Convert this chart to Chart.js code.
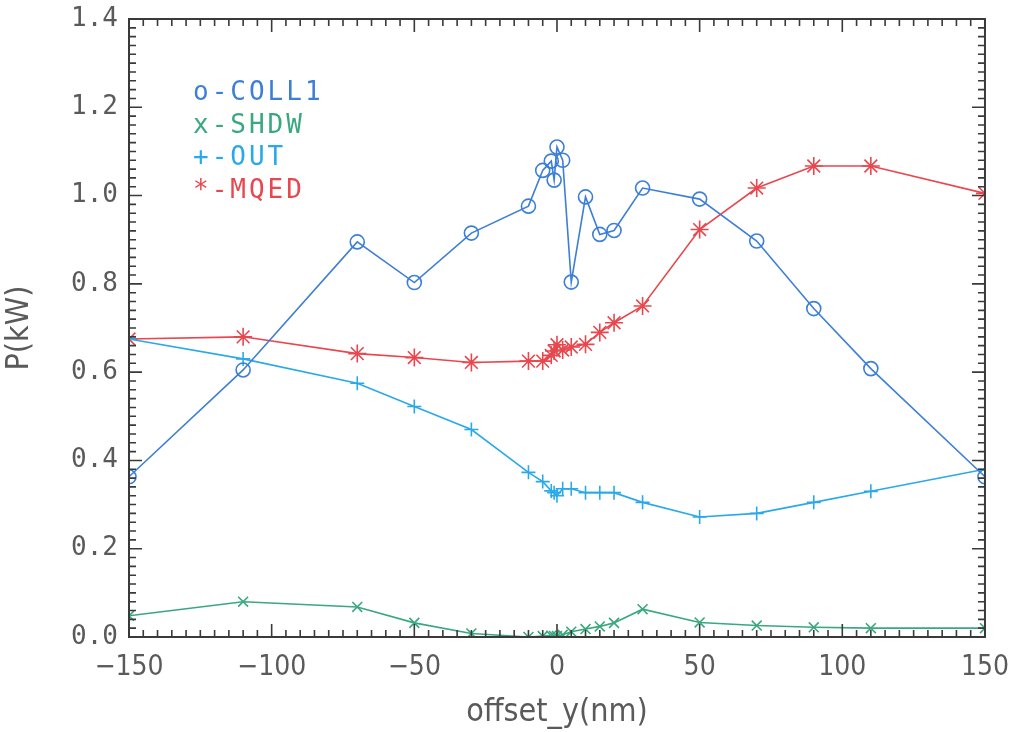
<!DOCTYPE html>
<html>
<head>
<meta charset="utf-8">
<script src="https://cdn.jsdelivr.net/npm/chart.js@4"></script>
<style>
  html, body { margin: 0; padding: 0; background: #ffffff; }
  #wrap { width: 1015px; height: 732px; position: relative; }
</style>
</head>
<body>
<div id="wrap"><canvas id="chart" width="1015" height="732"></canvas></div>
<script>
// offset_y (nm) positions shared by all four series
const offsetY = [-150, -110, -70, -50, -30, -10, -5, -2, -1, 0, 2, 5, 10, 15, 20, 30, 50, 70, 90, 110, 150];

// P (kW) per series
const coll1 = [0.363, 0.605, 0.895, 0.803, 0.915, 0.976, 1.057, 1.078, 1.035, 1.110, 1.080, 0.804, 0.997, 0.912, 0.921, 1.017, 0.992, 0.897, 0.744, 0.608, 0.363];
const shdw  = [0.048, 0.080, 0.068, 0.032, 0.008, 0.000, 0.002, 0.003, 0.002, 0.002, 0.005, 0.012, 0.018, 0.024, 0.032, 0.063, 0.033, 0.026, 0.022, 0.020, 0.020];
const out   = [0.675, 0.630, 0.575, 0.522, 0.470, 0.373, 0.352, 0.331, 0.327, 0.320, 0.336, 0.336, 0.327, 0.327, 0.327, 0.305, 0.272, 0.280, 0.305, 0.330, 0.380];
const mqed  = [0.675, 0.680, 0.642, 0.633, 0.622, 0.625, 0.625, 0.638, 0.648, 0.662, 0.650, 0.657, 0.663, 0.690, 0.712, 0.750, 0.923, 1.017, 1.067, 1.067, 1.005];

const legendLabels = ["o-COLL1", "x-SHDW", "+-OUT", "*-MQED"];

const AXIS_COLOR = "#3a3a3a";
const LABEL_COLOR = "#5a5a5a";
const NARROW = "'Liberation Sans Narrow', 'DejaVu Sans Condensed', 'DejaVu Sans', sans-serif";
const MONO = "'DejaVu Sans Mono', monospace";

function pts(ys) {
  return offsetY.map(function (x, i) { return { x: x, y: ys[i] }; });
}

function series(label, ys, color, style, radius) {
  return {
    label: label,
    data: pts(ys),
    showLine: true,
    borderColor: color,
    backgroundColor: "rgba(0,0,0,0)",
    borderWidth: 1.6,
    pointStyle: style,
    pointRadius: radius,
    pointBorderColor: color,
    pointBorderWidth: 1.6,
    pointBackgroundColor: "rgba(0,0,0,0)",
    tension: 0,
  };
}

// frame + inward major/minor ticks on all four sides
const framePlugin = {
  id: "frame",
  afterDraw: function (chart) {
    const ctx = chart.ctx;
    const a = chart.chartArea;
    const xs = chart.scales.x;
    const ys = chart.scales.y;
    ctx.save();
    ctx.strokeStyle = AXIS_COLOR;
    ctx.lineWidth = 2;
    ctx.strokeRect(a.left, a.top, a.right - a.left, a.bottom - a.top);
    ctx.lineWidth = 1.6;
    ctx.beginPath();
    for (let v = -150; v <= 150; v += 5) {
      const px = xs.getPixelForValue(v);
      const len = v % 50 === 0 ? 13 : 7;
      ctx.moveTo(px, a.bottom); ctx.lineTo(px, a.bottom - len);
      ctx.moveTo(px, a.top); ctx.lineTo(px, a.top + len);
    }
    for (let k = 0; k <= 70; k++) {
      const py = ys.getPixelForValue(k * 0.02);
      const len = k % 10 === 0 ? 13 : 7;
      ctx.moveTo(a.left, py); ctx.lineTo(a.left + len, py);
      ctx.moveTo(a.right, py); ctx.lineTo(a.right - len, py);
    }
    ctx.stroke();

    // legend text inside the plot
    ctx.font = "26px " + MONO;
    ctx.letterSpacing = "3px";
    ctx.textBaseline = "alphabetic";
    ctx.textAlign = "left";
    chart.data.datasets.forEach(function (ds, i) {
      ctx.fillStyle = ds.borderColor;
      ctx.fillText(legendLabels[i], 193, 100 + i * 32.7);
    });
    ctx.restore();
  },
};

const ctx = document.getElementById("chart").getContext("2d");
new Chart(ctx, {
  type: "scatter",
  data: {
    datasets: [
      series("COLL1", coll1, "#3d7fd6", "circle", 7),
      series("SHDW", shdw, "#3aa87f", "crossRot", 7),
      series("OUT", out, "#2aa9ea", "cross", 7),
      series("MQED", mqed, "#e8474e", "star", 9),
    ],
  },
  options: {
    responsive: false,
    animation: false,
    layout: { padding: { top: 19, right: 26, left: 0, bottom: 0 } },
    plugins: {
      legend: { display: false },
      tooltip: { enabled: false },
    },
    scales: {
      x: {
        type: "linear",
        min: -150,
        max: 150,
        grid: { display: false },
        border: { display: false },
        ticks: {
          stepSize: 50,
          padding: 6,
          color: LABEL_COLOR,
          font: { family: NARROW, size: 28 },
          maxRotation: 0,
          callback: function (v) { return v < 0 ? "\u2212" + Math.abs(v) : String(v); },
        },
        title: {
          display: true,
          text: "offset_y(nm)",
          color: LABEL_COLOR,
          font: { family: NARROW, size: 32 },
          padding: { top: 0, bottom: 0 },
        },
        afterFit: function (scale) { scale.height = 732 - 637; },
      },
      y: {
        type: "linear",
        min: 0,
        max: 1.4,
        grid: { display: false },
        border: { display: false },
        ticks: {
          stepSize: 0.2,
          padding: 3,
          color: LABEL_COLOR,
          font: { family: MONO, size: 26 },
          callback: function (v) { return v.toFixed(1); },
        },
        title: {
          display: true,
          text: "P(kW)",
          color: LABEL_COLOR,
          font: { family: NARROW, size: 32 },
          padding: { top: 0, bottom: 16 },
        },
        afterFit: function (scale) { scale.width = 129; },
      },
    },
  },
  plugins: [framePlugin],
});
</script>
</body>
</html>
